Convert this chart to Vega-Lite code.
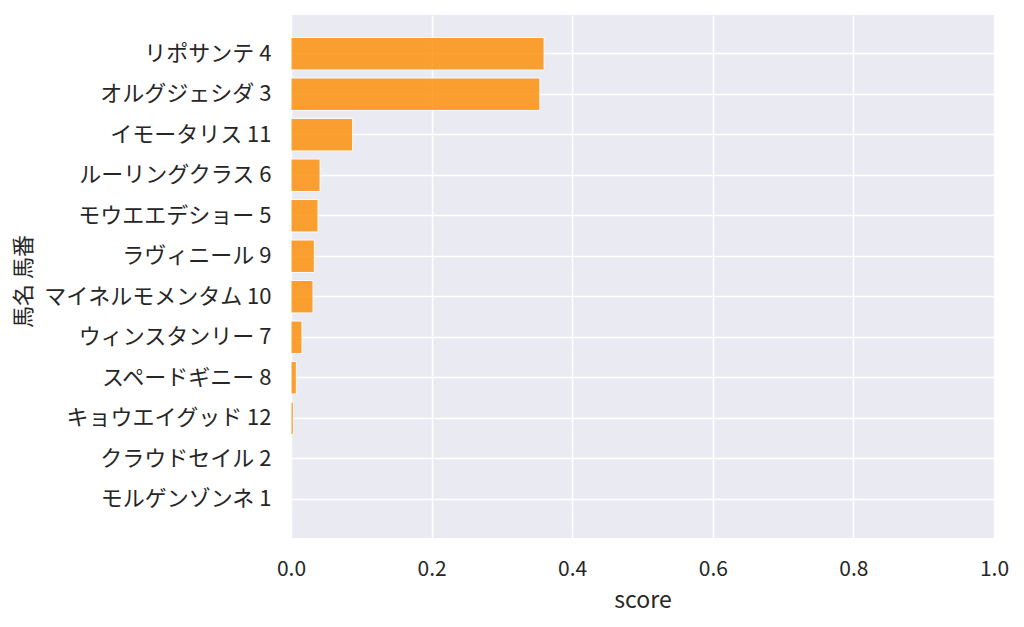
{
  "$schema": "https://vega.github.io/schema/vega-lite/v6.json",
  "width": 703,
  "height": 523,
  "autosize": {"type": "none"},
  "padding": {"left": 291, "top": 15, "right": 30, "bottom": 89},
  "background": "white",
  "config": {
    "font": "Noto Sans CJK JP",
    "view": {"fill": "#eaeaf2", "stroke": null},
    "axis": {
      "labelFont": "Noto Sans CJK JP",
      "titleFont": "Noto Sans CJK JP",
      "labelColor": "#262626",
      "titleColor": "#262626",
      "labelFontSize": 21,
      "titleFontSize": 22,
      "titleFontWeight": "normal",
      "gridColor": "white",
      "gridWidth": 1.5,
      "grid": true,
      "domain": false,
      "ticks": false
    }
  },
  "data": {
    "values": [
      {"horse": "リポサンテ 4", "score": 0.360},
      {"horse": "オルグジェシダ 3", "score": 0.354},
      {"horse": "イモータリス 11", "score": 0.0877},
      {"horse": "ルーリングクラス 6", "score": 0.0413},
      {"horse": "モウエエデショー 5", "score": 0.0384},
      {"horse": "ラヴィニール 9", "score": 0.0332},
      {"horse": "マイネルモメンタム 10", "score": 0.0313},
      {"horse": "ウィンスタンリー 7", "score": 0.0156},
      {"horse": "スペードギニー 8", "score": 0.0076},
      {"horse": "キョウエイグッド 12", "score": 0.0033},
      {"horse": "クラウドセイル 2", "score": 0.0006},
      {"horse": "モルゲンゾンネ 1", "score": 0.0004}
    ]
  },
  "mark": {
    "type": "bar",
    "color": "darkorange",
    "opacity": 0.8,
    "stroke": "white",
    "strokeWidth": 1
  },
  "encoding": {
    "y": {
      "field": "horse",
      "type": "nominal",
      "sort": null,
      "title": "馬名 馬番",
      "scale": {"paddingInner": 0.2, "paddingOuter": 0.556},
      "axis": {"grid": true, "labelFontSize": 22, "labelPadding": 20, "titleX": -256, "titleY": 266, "tickBand": "center", "labelLimit": 400}
    },
    "x": {
      "field": "score",
      "type": "quantitative",
      "title": "score",
      "scale": {"domain": [0, 1]},
      "axis": {"values": [0, 0.2, 0.4, 0.6, 0.8, 1.0], "format": ".1f", "labelFlush": false, "labelPadding": 20, "titlePadding": 10, "titleFontSize": 23}
    }
  }
}
